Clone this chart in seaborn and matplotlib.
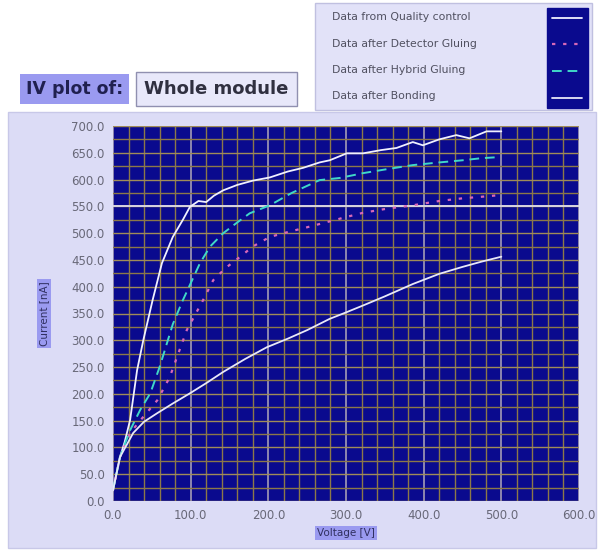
import matplotlib
matplotlib.use('Agg')
import matplotlib.pyplot as plt
from matplotlib.patches import Rectangle
from matplotlib.lines import Line2D
from matplotlib.ticker import MultipleLocator, FormatStrFormatter
import pandas as pd
import seaborn as sns

sns.set_style('dark')
plt.rcParams['font.family'] = ['DejaVu Sans']

# Series (voltage in V, current in nA)
qc_v = [0, 5, 9, 15, 22, 31, 39, 51, 63, 77, 90, 99, 110, 120, 130, 142, 160,
        180, 202, 225, 245, 266, 279, 301, 322, 345, 365, 386, 399, 420, 442,
        459, 481, 500]
qc_i = [20, 55, 82, 110, 151, 244, 300, 375, 444, 493, 525, 549, 560, 558,
        570, 580, 590, 598, 604, 615, 622, 632, 636, 649, 649, 655, 659, 670,
        664, 675, 683, 677, 690, 690]

det_v = [0, 9, 22, 39, 57, 73, 95, 116, 129, 145, 163, 180, 202, 225, 250,
         279, 300, 322, 350, 386, 420, 450, 475, 498]
det_i = [20, 82, 127, 157, 188, 231, 319, 375, 412, 435, 455, 475, 493, 502,
         511, 522, 530, 538, 545, 552, 560, 565, 568, 571]

hyb_v = [0, 9, 22, 35, 48, 60, 77, 90, 112, 125, 142, 160, 176, 202, 230,
         266, 292, 322, 355, 386, 420, 450, 475, 498]
hyb_i = [20, 82, 132, 170, 201, 250, 330, 375, 444, 475, 500, 520, 537, 552,
         575, 599, 603, 612, 620, 627, 632, 636, 640, 642]

bond_v = [0, 9, 26, 40, 57, 77, 99, 120, 142, 170, 198, 225, 250, 279, 300,
          322, 350, 386, 420, 450, 475, 500]
bond_i = [20, 82, 127, 148, 164, 182, 201, 220, 241, 265, 287, 303, 319, 340,
          352, 365, 382, 405, 424, 437, 447, 456]

labels = ['Data from Quality control', 'Data after Detector Gluing',
          'Data after Hybrid Gluing', 'Data after Bonding']
series = [(qc_v, qc_i), (det_v, det_i), (hyb_v, hyb_i), (bond_v, bond_i)]
styles = [('#f0f0ff', '-', 1.3), ('#d868b8', (0, (1.5, 3.5)), 1.6),
          ('#40d8c8', (0, (5, 3)), 1.4), ('#e8e8f8', '-', 1.3)]

PANEL = '#dcdcf6'
PLOT_BG = '#0a0a8e'
TEXT = '#686878'
GRID = '#8c7848'

fig = plt.figure(figsize=(6.02, 5.50), dpi=100)
fig.patch.set_facecolor('white')

# lavender panel behind the graph, and the legend box
bg = fig.add_axes([0, 0, 1, 1], zorder=0)
bg.set_xlim(0, 602)
bg.set_ylim(550, 0)
bg.axis('off')
bg.add_patch(Rectangle((8, 112), 588, 436, facecolor=PANEL,
                       edgecolor='#c8c8e8'))
bg.add_patch(Rectangle((315, 3), 277, 107, facecolor='#e2e2f8',
                       edgecolor='#c0c0e0'))

ax = fig.add_axes([113 / 602, 49 / 550, 466 / 602, 375 / 550], zorder=2)
ax.set_facecolor(PLOT_BG)

handles = []
for (v, i), lab, (col, ls, lw) in zip(series, labels, styles):
    df = pd.DataFrame({'Voltage': v, 'Current': i})
    sns.lineplot(data=df, x='Voltage', y='Current', ax=ax, color=col,
                 linestyle=ls, linewidth=lw, sort=False, estimator=None,
                 zorder=3)
    handles.append(Line2D([], [], color=col, linestyle=ls, linewidth=lw))

ax.set_xlim(0, 600)
ax.set_ylim(0, 700)
ax.xaxis.set_major_locator(MultipleLocator(100))
ax.xaxis.set_minor_locator(MultipleLocator(20))
ax.yaxis.set_major_locator(MultipleLocator(50))
ax.yaxis.set_minor_locator(MultipleLocator(25))
ax.xaxis.set_major_formatter(FormatStrFormatter('%.1f'))
ax.yaxis.set_major_formatter(FormatStrFormatter('%.1f'))

ax.xaxis.grid(True, which='minor', color=GRID, linewidth=1.0)
ax.yaxis.grid(True, which='minor', color=GRID, linewidth=1.0)
ax.yaxis.grid(True, which='major', color='#a08c58', linewidth=1.0)
ax.xaxis.grid(True, which='major', color='#b0a8b8', linewidth=1.1)
ax.axhline(550, color='#d8d4e0', linewidth=1.4, zorder=2)

ax.tick_params(which='major', direction='out', length=4, width=1,
               color='#505060', labelcolor=TEXT, labelsize=8.5, pad=2)
ax.tick_params(which='minor', length=0)
for s in ax.spines.values():
    s.set_visible(False)

ax.set_xlabel('Voltage [V]', fontsize=7.5, color='#303060', labelpad=4,
              bbox=dict(facecolor='#9a9af0', edgecolor='none', pad=1.5))
ax.set_ylabel('Current [nA]', fontsize=7.5, color='#303060', labelpad=16,
              bbox=dict(facecolor='#9a9af0', edgecolor='none', pad=1.5))

# "IV plot of:" selector
fig.text(26 / 602, 1 - 89 / 550, 'IV plot of:', fontsize=12.5,
         fontweight='bold', color='#202050', va='center', ha='left',
         bbox=dict(facecolor='#9a9af0', edgecolor='none', pad=4))
fig.text(144 / 602, 1 - 89 / 550, 'Whole module', fontsize=13,
         fontweight='bold', color='#303040', va='center', ha='left',
         bbox=dict(facecolor='#e8e8fa', edgecolor='#9090b0', pad=6))

# legend: text column plus dark swatch column
leg_txt = fig.legend([Line2D([], [], alpha=0)] * 4, labels,
                     loc='upper left', bbox_to_anchor=(326 / 602, 1 - 6 / 550),
                     handlelength=0, handletextpad=0, fontsize=7.8,
                     labelcolor='#505060', frameon=False,
                     borderpad=0.6, labelspacing=1.5, borderaxespad=0)
leg_sw = fig.legend(handles, [''] * 4, loc='upper left',
                    bbox_to_anchor=(547 / 602, 1 - 8 / 550),
                    handlelength=2.9, handletextpad=0, fontsize=7.5,
                    frameon=True, fancybox=False, facecolor=PLOT_BG,
                    edgecolor=PLOT_BG, framealpha=1, borderpad=0.5,
                    labelspacing=1.6, borderaxespad=0)

fig.savefig('out.png', dpi=100)
